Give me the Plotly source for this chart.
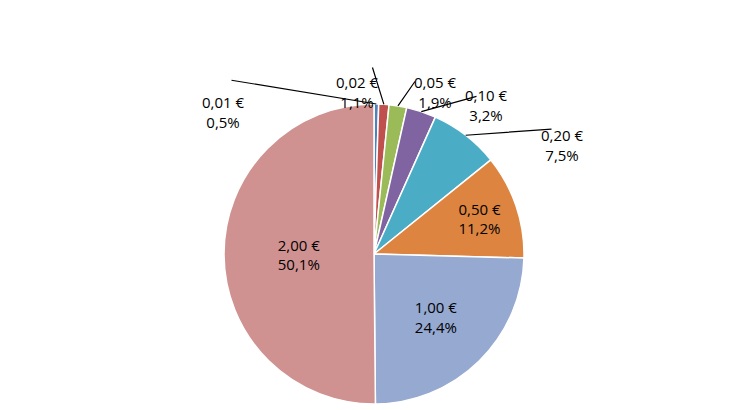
import math
import plotly.graph_objects as go

coins = ["0,01 €", "0,02 €", "0,05 €", "0,10 €", "0,20 €", "0,50 €", "1,00 €", "2,00 €"]
shares = [0.5, 1.1, 1.9, 3.2, 7.5, 11.2, 24.4, 50.1]
share_labels = ["0,5%", "1,1%", "1,9%", "3,2%", "7,5%", "11,2%", "24,4%", "50,1%"]
colors = ["#4F81BD", "#C0504D", "#9BBB59", "#8064A2", "#4BACC6", "#DD8540", "#95A9D1", "#D09291"]

texts = [f"{c}<br>{p}" for c, p in zip(coins, share_labels)]
n_outside = 5
inside_texts = [""] * n_outside + texts[n_outside:]

W, H = 730, 410
cx, cy, r = 366, 246, 150
# where the outside labels sit (pixels, from the picture)
label_pos = [(192, 82), (349, 62), (427, 62), (502, 75), (578, 115)]
# where the leader line leaves the label (pixels)
line_start = [(222, 72), (364, 58), (408, 72), (470, 88), (545, 121)]

fig = go.Figure(go.Pie(
    labels=coins,
    values=shares,
    text=inside_texts,
    textinfo="text",
    textposition="inside",
    insidetextorientation="horizontal",
    sort=False,
    direction="clockwise",
    rotation=0,
    marker=dict(colors=colors, line=dict(color="white", width=1.5)),
    textfont=dict(family="Open Sans", size=15, color="black"),
    domain=dict(x=[(cx - r) / W, (cx + r) / W], y=[1 - (cy + r) / H, 1 - (cy - r) / H]),
    showlegend=False,
))

total = sum(shares)
cum = 0
for i, s in enumerate(shares):
    mid = (cum + s / 2) / total * 2 * math.pi
    cum += s
    if i >= n_outside:
        continue
    px_, py_ = cx + r * math.sin(mid), cy - r * math.cos(mid)
    sx, sy = line_start[i]
    fig.add_annotation(x=px_ / W, y=1 - py_ / H, xref="paper", yref="paper",
                       ax=sx - px_, ay=sy - py_, text="", showarrow=True,
                       arrowhead=0, arrowwidth=1.2, arrowcolor="black")
    lx, ly = label_pos[i]
    fig.add_annotation(x=lx / W, y=1 - ly / H, xref="paper", yref="paper",
                       text=texts[i], showarrow=False,
                       font=dict(family="Open Sans", size=15, color="black"))

fig.update_layout(
    width=W, height=H,
    margin=dict(l=0, r=0, t=0, b=0),
    paper_bgcolor="white",
)
fig.write_html("out.html")
